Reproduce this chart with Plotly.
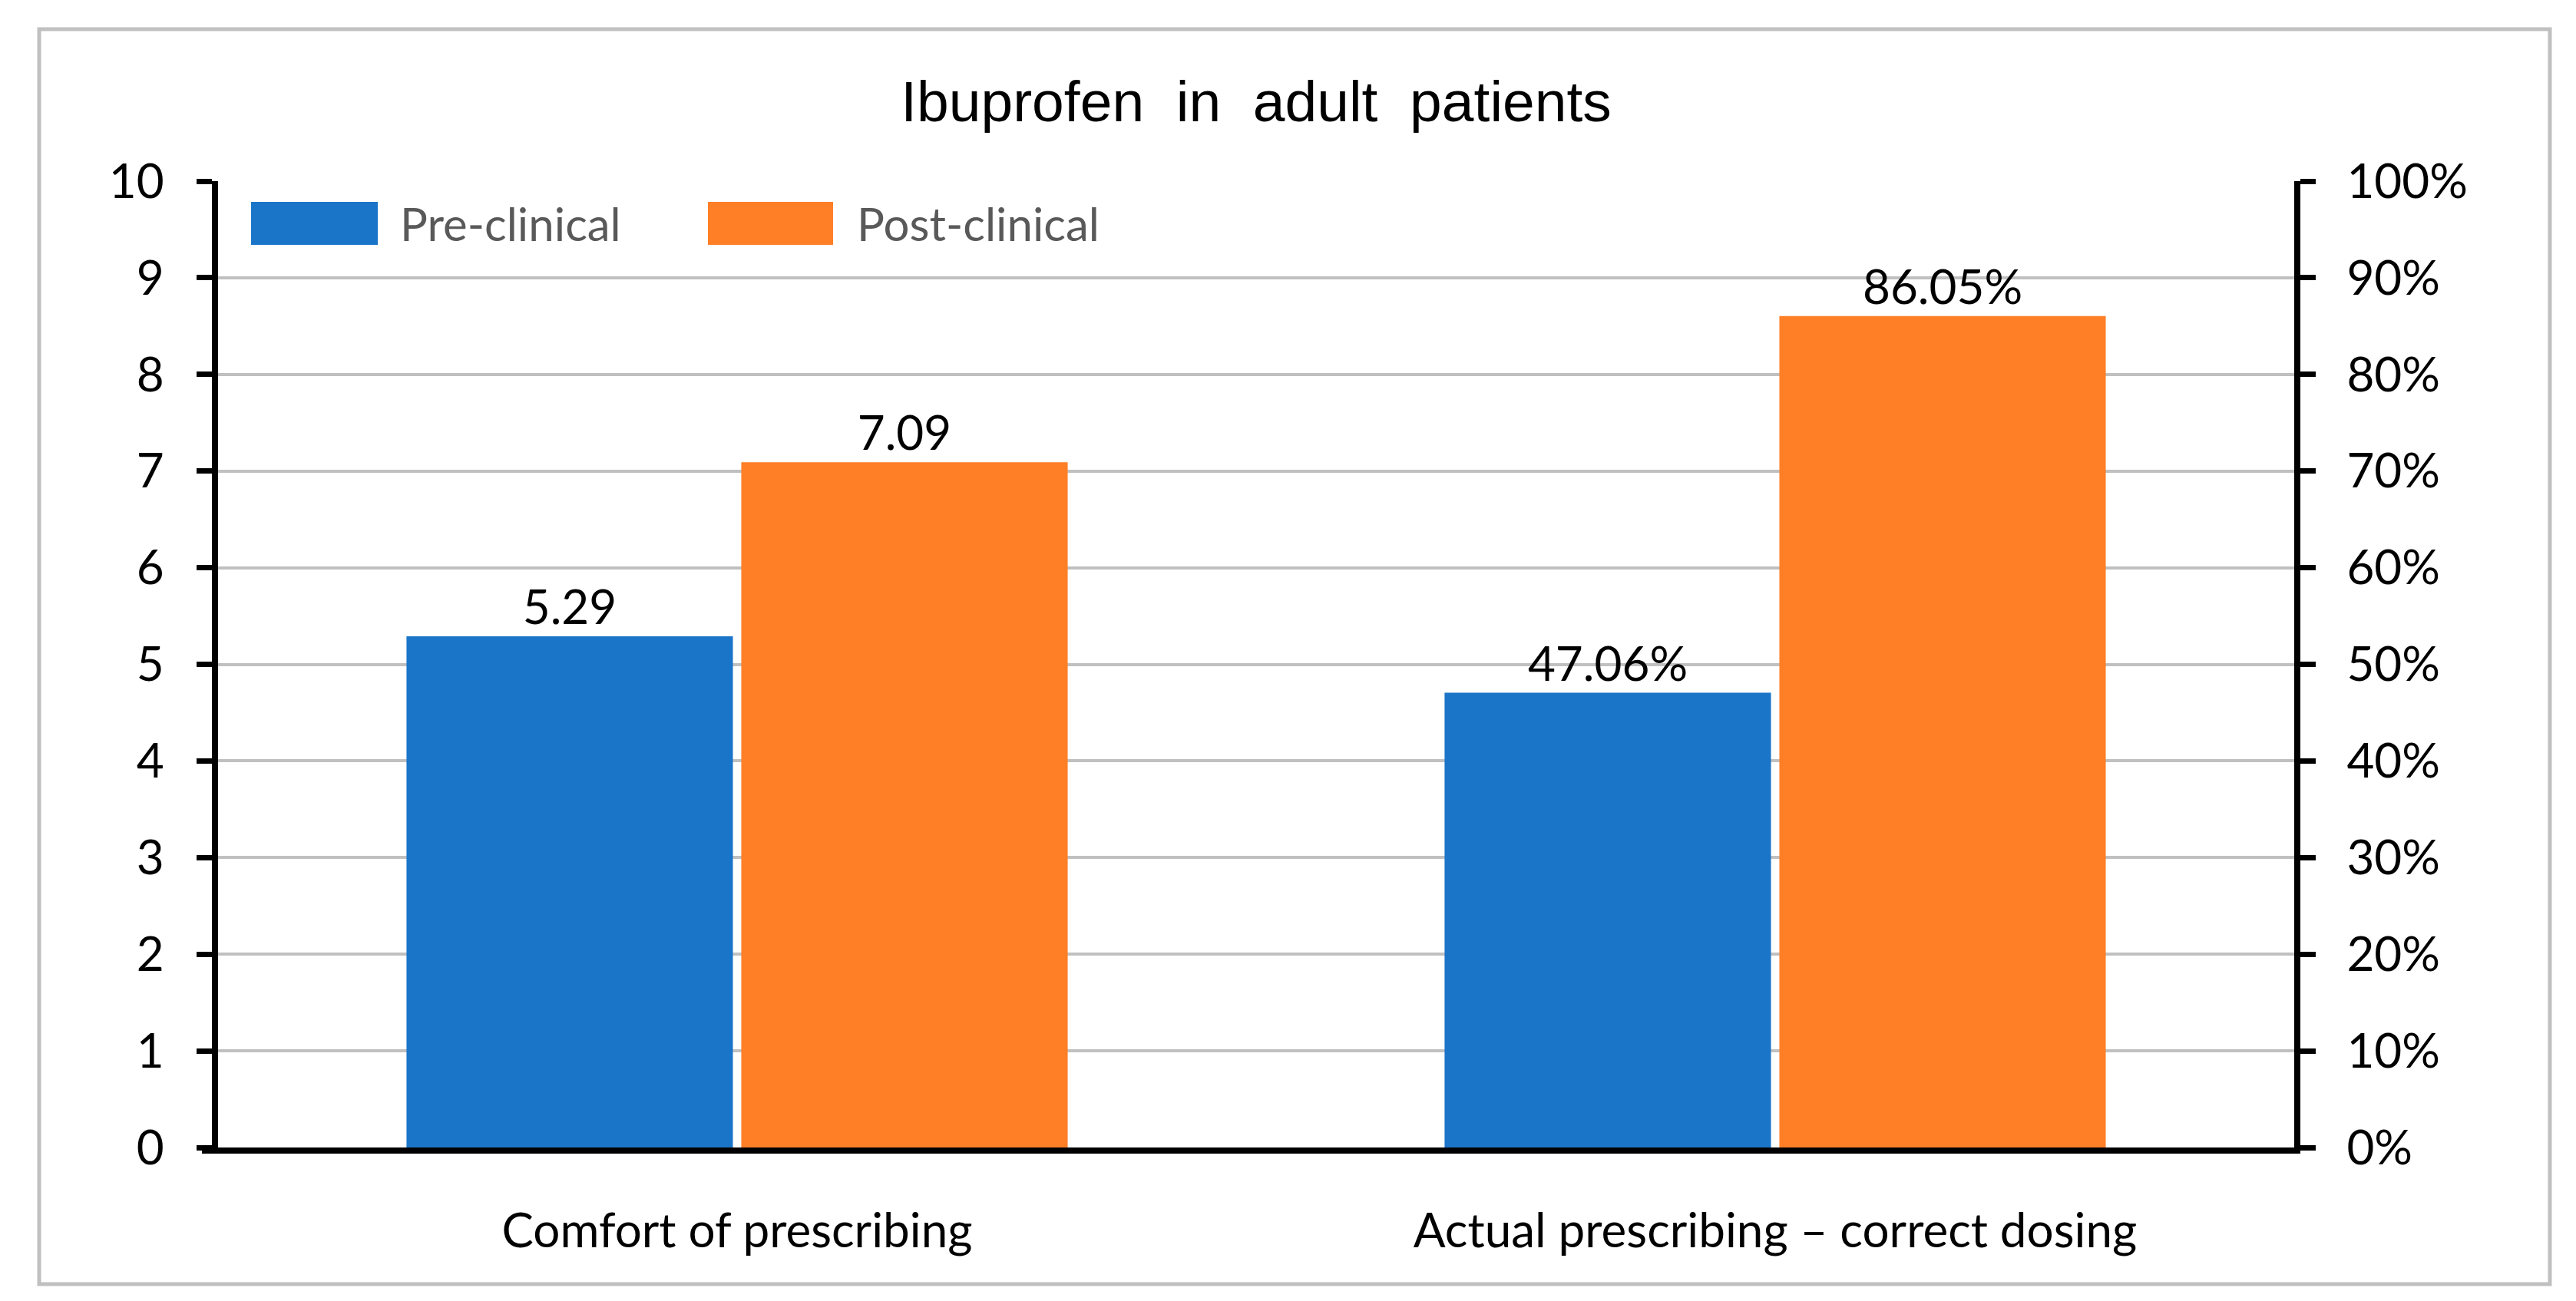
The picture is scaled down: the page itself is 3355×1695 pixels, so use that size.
import plotly.graph_objects as go

categories = ["Comfort of prescribing", "Actual prescribing \u2013 correct dosing"]
series_names = ["Pre-clinical", "Post-clinical"]
comfort_scores = [5.29, 7.09]          # left axis (0-10)
dosing_correct = [0.4706, 0.8605]      # right axis (0-100%)
colors = ["#1A75C9", "#FF7F27"]

FONT = "Lato"
TITLE_FONT = "Liberation Sans Narrow, Liberation Sans, Arial"
W, H = 3355, 1695
L, R, T, B = 276, 375, 228, 208

fig = go.Figure()
for i, name in enumerate(series_names):
    fig.add_trace(go.Bar(
        x=categories, y=[comfort_scores[i], None], name=name,
        marker=dict(color=colors[i], line=dict(width=0)),
        texttemplate="%{y:.2f}", textposition="outside",
        textfont=dict(family=FONT, size=62, color="black"),
        cliponaxis=False, showlegend=False, yaxis="y",
    ))
for i, name in enumerate(series_names):
    fig.add_trace(go.Bar(
        x=categories, y=[None, dosing_correct[i]], name=name,
        marker=dict(color=colors[i], line=dict(width=0)),
        texttemplate="%{y:.2%}", textposition="outside",
        textfont=dict(family=FONT, size=62, color="black"),
        cliponaxis=False, showlegend=False, yaxis="y2",
    ))

pw = W - L - R
ph = H - T - B
def px(x):
    return (x - L) / pw
def py(y):
    return (H - B - y) / ph

shapes = [
    dict(type="rect", xref="paper", yref="paper",
         x0=px(43), x1=px(3313), y0=py(1665), y1=py(30),
         line=dict(color="#C0C0C0", width=5), layer="below"),
    dict(type="line", xref="paper", yref="paper",
         x0=px(255), x1=px(280), y0=py(H - B + 4), y1=py(H - B + 4),
         line=dict(color="black", width=8)),
]
annotations = []
legend_pos = [(319, 484, 511), (914, 1077, 1106)]
for (x0, x1, tx), name, c in zip(legend_pos, series_names, colors):
    shapes.append(dict(type="rect", xref="paper", yref="paper",
                       x0=px(x0), x1=px(x1), y0=py(311), y1=py(255),
                       fillcolor=c, line=dict(width=0)))
    annotations.append(dict(xref="paper", yref="paper", x=px(tx), y=py(283),
                            xanchor="left", yanchor="middle", text=name,
                            showarrow=False,
                            font=dict(family=FONT, size=60, color="#595959")))

fig.update_layout(
    width=W, height=H,
    margin=dict(l=L, r=R, t=T, b=B),
    paper_bgcolor="white", plot_bgcolor="white",
    barmode="group", bargap=0.355, bargroupgap=0.025,
    title=dict(text="Ibuprofen\u00a0 in\u00a0 adult\u00a0 patients", x=(L + pw / 2) / W, xanchor="center",
               y=1 - 124 / H, yanchor="middle", yref="container",
               font=dict(family=TITLE_FONT, size=75, color="black")),
    showlegend=False,
    xaxis=dict(type="category", categoryorder="array", categoryarray=categories,
               showline=True, linecolor="black", linewidth=8, ticks="",
               showgrid=False, ticklabelstandoff=48,
               tickfont=dict(family=FONT, size=62, color="black")),
    yaxis=dict(range=[0, 10], dtick=1, showgrid=True, gridcolor="#C0C0C0", gridwidth=4,
               showline=True, linecolor="black", linewidth=8, zeroline=False,
               ticks="outside", ticklen=20, tickwidth=7, tickcolor="black",
               ticklabelstandoff=30,
               tickfont=dict(family=FONT, size=62, color="black")),
    yaxis2=dict(range=[0, 1], dtick=0.1, tickformat=".0%", overlaying="y", side="right",
                showgrid=False, showline=True, linecolor="black", linewidth=8, zeroline=False,
                ticks="outside", ticklen=20, tickwidth=7, tickcolor="black",
                ticklabelstandoff=28,
                tickfont=dict(family=FONT, size=62, color="black")),
    shapes=shapes, annotations=annotations,
)

fig.write_html("out.html")
